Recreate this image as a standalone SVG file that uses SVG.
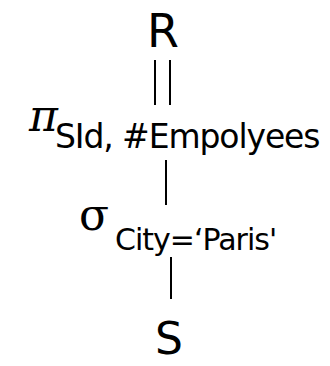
<svg xmlns="http://www.w3.org/2000/svg" width="330" height="366" viewBox="0 0 330 366">
<style>
text{font-family:"DejaVu Sans",Verdana,sans-serif;fill:#000}
.big{font-size:46px}
.sub{font-size:33px;letter-spacing:-1.1px}
.sub2{font-size:30px;letter-spacing:-1px}
.greek{font-size:44px;font-family:"DejaVu Serif","Liberation Serif",serif}
.edge{stroke:#000;stroke-width:2;fill:none}
</style>
<rect width="330" height="366" fill="#fff"/>
<g id="connectors">
<line class="edge" x1="155" y1="60" x2="155" y2="105"/>
<line class="edge" x1="170" y1="60" x2="170" y2="105"/>
<line class="edge" x1="166" y1="160" x2="166" y2="205"/>
<line class="edge" x1="171" y1="257" x2="171" y2="299"/>
</g>
<g id="node-R"><text class="big" x="163" y="47" text-anchor="middle">R</text></g>
<g id="node-pi"><text class="greek" x="29" y="131" font-style="italic">π</text><text class="sub" x="55" y="148">SId, #Empolyees</text></g>
<g id="node-sigma"><text class="greek" x="79" y="230">σ</text><text class="sub2" x="115" y="250">City=‘Paris'</text></g>
<g id="node-S"><text x="169" y="354" text-anchor="middle" font-size="44">S</text></g>
</svg>
